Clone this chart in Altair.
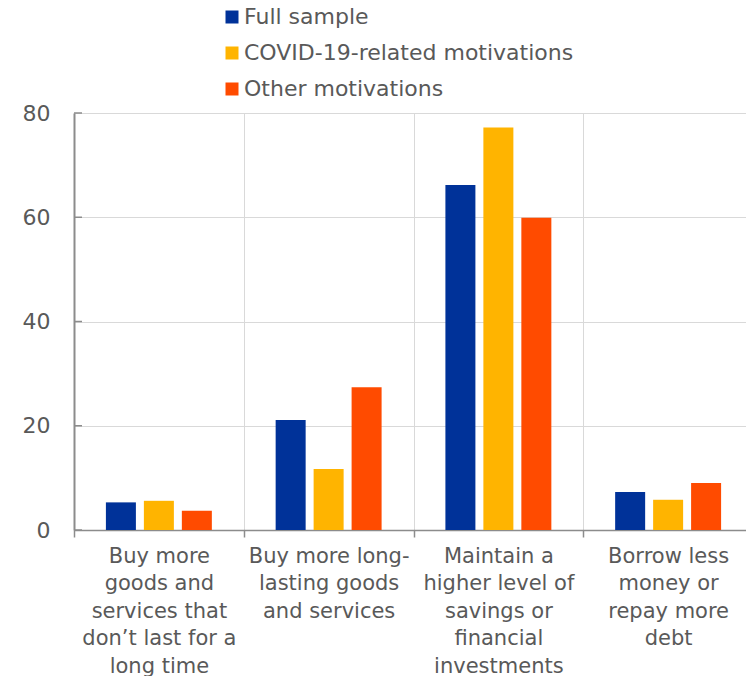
import altair as alt
import pandas as pd

categories = [
    "Buy more\ngoods and\nservices that\ndon’t last for a\nlong time",
    "Buy more long-\nlasting goods\nand services",
    "Maintain a\nhigher level of\nsavings or\nfinancial\ninvestments",
    "Borrow less\nmoney or\nrepay more\ndebt",
]
series = ["Full sample", "COVID-19-related motivations", "Other motivations"]
full_sample = [5.3, 21.1, 66.2, 7.3]
covid_related = [5.6, 11.7, 77.2, 5.8]
other_motivations = [3.7, 27.4, 59.9, 9.0]
colors = ["#003299", "#FFB400", "#FF4B00"]
y_ticks = [0, 20, 40, 60, 80]

rows = []
for s, vals in zip(series, [full_sample, covid_related, other_motivations]):
    for c, v in zip(categories, vals):
        rows.append({"category": c, "series": s, "value": v})
df = pd.DataFrame(rows)

FONT = "DejaVu Sans"
TXT = "#595959"
GRID = "#d9d9d9"
AXIS = "#8c8c8c"

bars = alt.Chart(df).mark_bar().encode(
    x=alt.X(
        "category:N",
        sort=categories,
        scale=alt.Scale(paddingInner=0, paddingOuter=0),
        axis=alt.Axis(
            title=None,
            labelAngle=0,
            labelExpr="split(datum.label, '\\n')",
            tickBand="extent",
            grid=True,
            gridColor=GRID,
            gridWidth=1,
            domainColor=AXIS,
            domainWidth=1.5,
            tickColor=AXIS,
            tickWidth=1.5,
            tickSize=7,
            labelFont=FONT,
            labelFontSize=21,
            labelColor=TXT,
            labelLineHeight=27.5,
            labelPadding=8,
            labelAlign="center",
            labelBaseline="top",
            labelLimit=300,
        ),
    ),
    xOffset=alt.XOffset(
        "series:N",
        sort=series,
        scale=alt.Scale(paddingInner=0.21, paddingOuter=0.84),
    ),
    y=alt.Y(
        "value:Q",
        scale=alt.Scale(domain=[0, 80]),
        axis=alt.Axis(
            title=None,
            values=y_ticks,
            tickSize=0,
            labelPadding=24,
            grid=True,
            gridColor=GRID,
            gridWidth=1,
            domainColor=AXIS,
            domainWidth=2,
            labelFont=FONT,
            labelFontSize=22,
            labelColor=TXT,
        ),
    ),
    color=alt.Color(
        "series:N",
        sort=series,
        scale=alt.Scale(domain=series, range=colors),
        legend=alt.Legend(
            title=None,
            orient="none",
            legendX=147,
            legendY=-107,
            direction="vertical",
            symbolType="square",
            symbolSize=169,
            symbolStrokeWidth=0,
            labelFont=FONT,
            labelFontSize=22,
            labelColor=TXT,
            labelOffset=1,
            labelLimit=500,
            rowPadding=14,
            padding=0,
        ),
    ),
)

ticks = alt.Chart(pd.DataFrame({"value": y_ticks})).mark_rule(
    color=AXIS, strokeWidth=1.5
).encode(
    y=alt.Y("value:Q"),
    x=alt.value(0),
    x2=alt.value(8),
)

chart = alt.layer(bars, ticks).properties(
    width=679,
    height=417,
    padding={"left": 66, "top": 105, "right": -7, "bottom": 146},
    autosize="none",
).configure_view(stroke=None)

chart.save("out.html", embed_options={"renderer": "svg", "actions": False})
